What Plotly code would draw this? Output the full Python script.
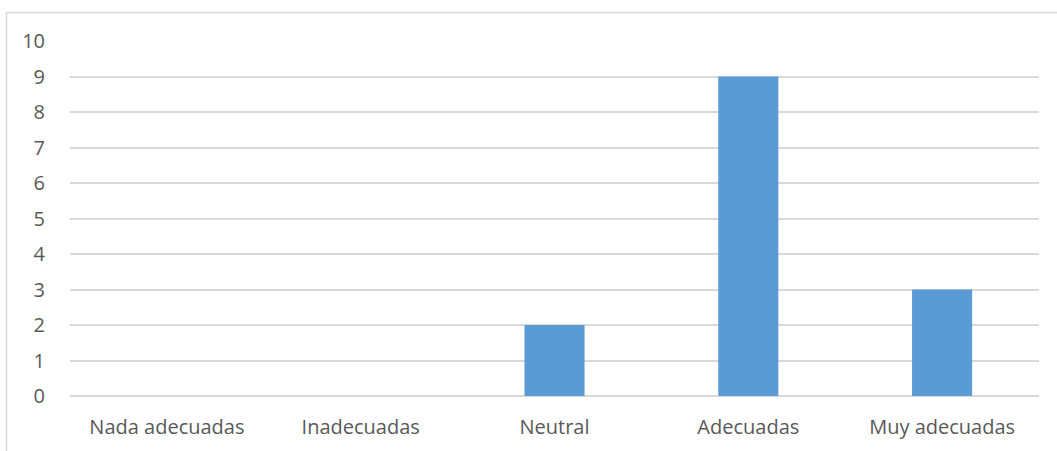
import plotly.graph_objects as go

categories = ["Nada adecuadas", "Inadecuadas", "Neutral", "Adecuadas", "Muy adecuadas"]
counts = [0, 0, 2, 9, 3]
y_ticks = list(range(0, 11))

W, H = 1057, 451
L, R, T, B = 70, 18, 41, 55
pw, ph = W - L - R, H - T - B

fig = go.Figure(
    go.Bar(
        x=categories,
        y=counts,
        marker=dict(color="#5B9BD5", line=dict(width=0)),
        width=0.31,
    )
)

font = dict(family="Open Sans, Liberation Sans, sans-serif", size=20, color="#595959")

fig.update_layout(
    width=W,
    height=H,
    margin=dict(l=L, r=R, t=T, b=B),
    paper_bgcolor="white",
    plot_bgcolor="white",
    showlegend=False,
    font=font,
    xaxis=dict(
        showgrid=False,
        showline=False,
        zeroline=False,
        ticks="outside",
        ticklen=13,
        tickcolor="rgba(0,0,0,0)",
        tickfont=font,
    ),
    yaxis=dict(
        range=[0, 10],
        tickvals=y_ticks,
        showgrid=True,
        gridcolor="#D9D9D9",
        gridwidth=1.5,
        zeroline=True,
        zerolinecolor="#D9D9D9",
        zerolinewidth=1.5,
        ticks="outside",
        ticklen=20,
        tickcolor="rgba(0,0,0,0)",
        tickfont=font,
    ),
    shapes=[
        # chart-area border (top and left edges)
        dict(type="line", xref="paper", yref="paper",
             x0=(6.5 - L) / pw, x1=(W + 5 - L) / pw,
             y0=(H - B - 12.5) / ph, y1=(H - B - 12.5) / ph,
             line=dict(color="#D9D9D9", width=1.5)),
        dict(type="line", xref="paper", yref="paper",
             x0=(6.5 - L) / pw, x1=(6.5 - L) / pw,
             y0=(H - B - 12.5) / ph, y1=-(B + 5) / ph,
             line=dict(color="#D9D9D9", width=1.5)),
    ],
)

fig.write_html("out.html")
